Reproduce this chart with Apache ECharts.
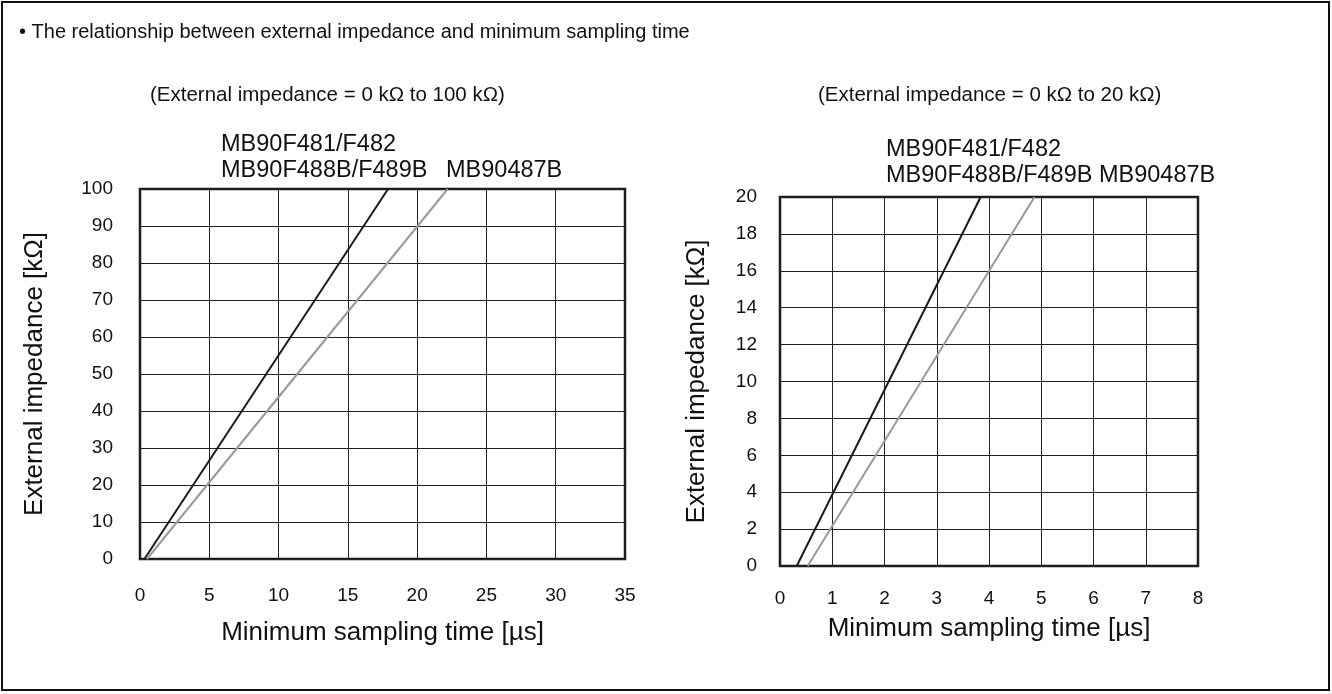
<!DOCTYPE html>
<html>
<head>
<meta charset="utf-8">
<script src="https://cdn.jsdelivr.net/npm/echarts@6/dist/echarts.min.js"></script>
<style>
  html, body { margin: 0; padding: 0; background: #fff; }
  #chart { width: 1332px; height: 694px; }
</style>
</head>
<body>
<div id="chart"></div>
<script>
// left panel: 0 - 100 kOhm
var wideXTicks = [0, 5, 10, 15, 20, 25, 30, 35];
var wideYTicks = [0, 10, 20, 30, 40, 50, 60, 70, 80, 90, 100];
var wideFlash = [[0.32, 0], [17.9, 100]];
var wideMask = [[0.5, 0], [22.2, 100]];

// right panel: 0 - 20 kOhm
var narrowXTicks = [0, 1, 2, 3, 4, 5, 6, 7, 8];
var narrowYTicks = [0, 2, 4, 6, 8, 10, 12, 14, 16, 18, 20];
var narrowFlash = [[0.32, 0], [3.84, 20]];
var narrowMask = [[0.53, 0], [4.87, 20]];

var seriesNames = ['MB90F481/F482 MB90F488B/F489B', 'MB90487B'];

var FONT = '"Liberation Sans", Arial, Helvetica, sans-serif';

document.addEventListener('DOMContentLoaded', function () {
    var myChart = echarts.init(document.getElementById('chart'));

    function xAxisFor(gridIndex, ticks, gap, margin) {
        return {
            type: 'value',
            gridIndex: gridIndex,
            min: ticks[0],
            max: ticks[ticks.length - 1],
            interval: ticks[1] - ticks[0],
            name: 'Minimum sampling time [\u00b5s]',
            nameLocation: 'middle',
            nameGap: gap,
            nameTextStyle: { color: '#111', fontSize: 26, fontFamily: FONT },
            axisLine: { show: false },
            axisTick: { show: false },
            axisLabel: { color: '#111', fontSize: 19, fontFamily: FONT, margin: margin },
            splitLine: { show: true, lineStyle: { color: '#222', width: 1 } }
        };
    }

    function yAxisFor(gridIndex, ticks, gap, margin) {
        return {
            type: 'value',
            gridIndex: gridIndex,
            min: ticks[0],
            max: ticks[ticks.length - 1],
            interval: ticks[1] - ticks[0],
            name: 'External impedance [k\u03a9]',
            nameLocation: 'middle',
            nameGap: gap,
            nameRotate: 90,
            nameTextStyle: { color: '#111', fontSize: 26, fontFamily: FONT },
            axisLine: { show: false },
            axisTick: { show: false },
            axisLabel: { color: '#111', fontSize: 19, fontFamily: FONT, margin: margin },
            splitLine: { show: true, lineStyle: { color: '#222', width: 1 } }
        };
    }

    function lineSeries(name, idx, data, color) {
        return {
            name: name,
            type: 'line',
            xAxisIndex: idx,
            yAxisIndex: idx,
            data: data,
            showSymbol: false,
            silent: true,
            lineStyle: { color: color, width: 2 },
            z: 5
        };
    }

    function ts(size) {
        return { color: '#111', fontSize: size, fontWeight: 'normal', fontFamily: FONT };
    }

    var option = {
        animation: false,
        backgroundColor: '#fff',
        title: [
            { text: '\u2022 The relationship between external impedance and minimum sampling time', left: 14, top: 17, textStyle: ts(20) },
            { text: '(External impedance = 0 k\u03a9 to 100 k\u03a9)', left: 145, top: 80, textStyle: ts(20.5) },
            { text: '(External impedance = 0 k\u03a9 to 20 k\u03a9)', left: 813, top: 80, textStyle: ts(20.5) },
            { text: 'MB90F481/F482', left: 216, top: 128, textStyle: ts(23.5) },
            { text: 'MB90F488B/F489B', left: 216, top: 154, textStyle: ts(23.5) },
            { text: 'MB90487B', left: 441, top: 154, textStyle: ts(23.5) },
            { text: 'MB90F481/F482', left: 881, top: 133, textStyle: ts(23.5) },
            { text: 'MB90F488B/F489B MB90487B', left: 881, top: 159, textStyle: ts(23.5) }
        ],
        graphic: [{
            type: 'rect',
            shape: { x: 2, y: 2, width: 1327, height: 688 },
            style: { fill: 'none', stroke: '#111', lineWidth: 2 },
            silent: true
        }],
        grid: [
            { left: 140, top: 189, width: 485, height: 370, show: true, borderColor: '#1a1a1a', borderWidth: 2.5 },
            { left: 780, top: 197, width: 418, height: 369, show: true, borderColor: '#1a1a1a', borderWidth: 2.5 }
        ],
        xAxis: [
            xAxisFor(0, wideXTicks, 61, 27),
            xAxisFor(1, narrowXTicks, 50, 23)
        ],
        yAxis: [
            yAxisFor(0, wideYTicks, 92, 27),
            yAxisFor(1, narrowYTicks, 70, 23)
        ],
        series: [
            lineSeries(seriesNames[0], 0, wideFlash, '#1a1a1a'),
            lineSeries(seriesNames[1], 0, wideMask, '#999999'),
            lineSeries(seriesNames[0], 1, narrowFlash, '#1a1a1a'),
            lineSeries(seriesNames[1], 1, narrowMask, '#999999')
        ]
    };

    myChart.setOption(option);
});
</script>
</body>
</html>
